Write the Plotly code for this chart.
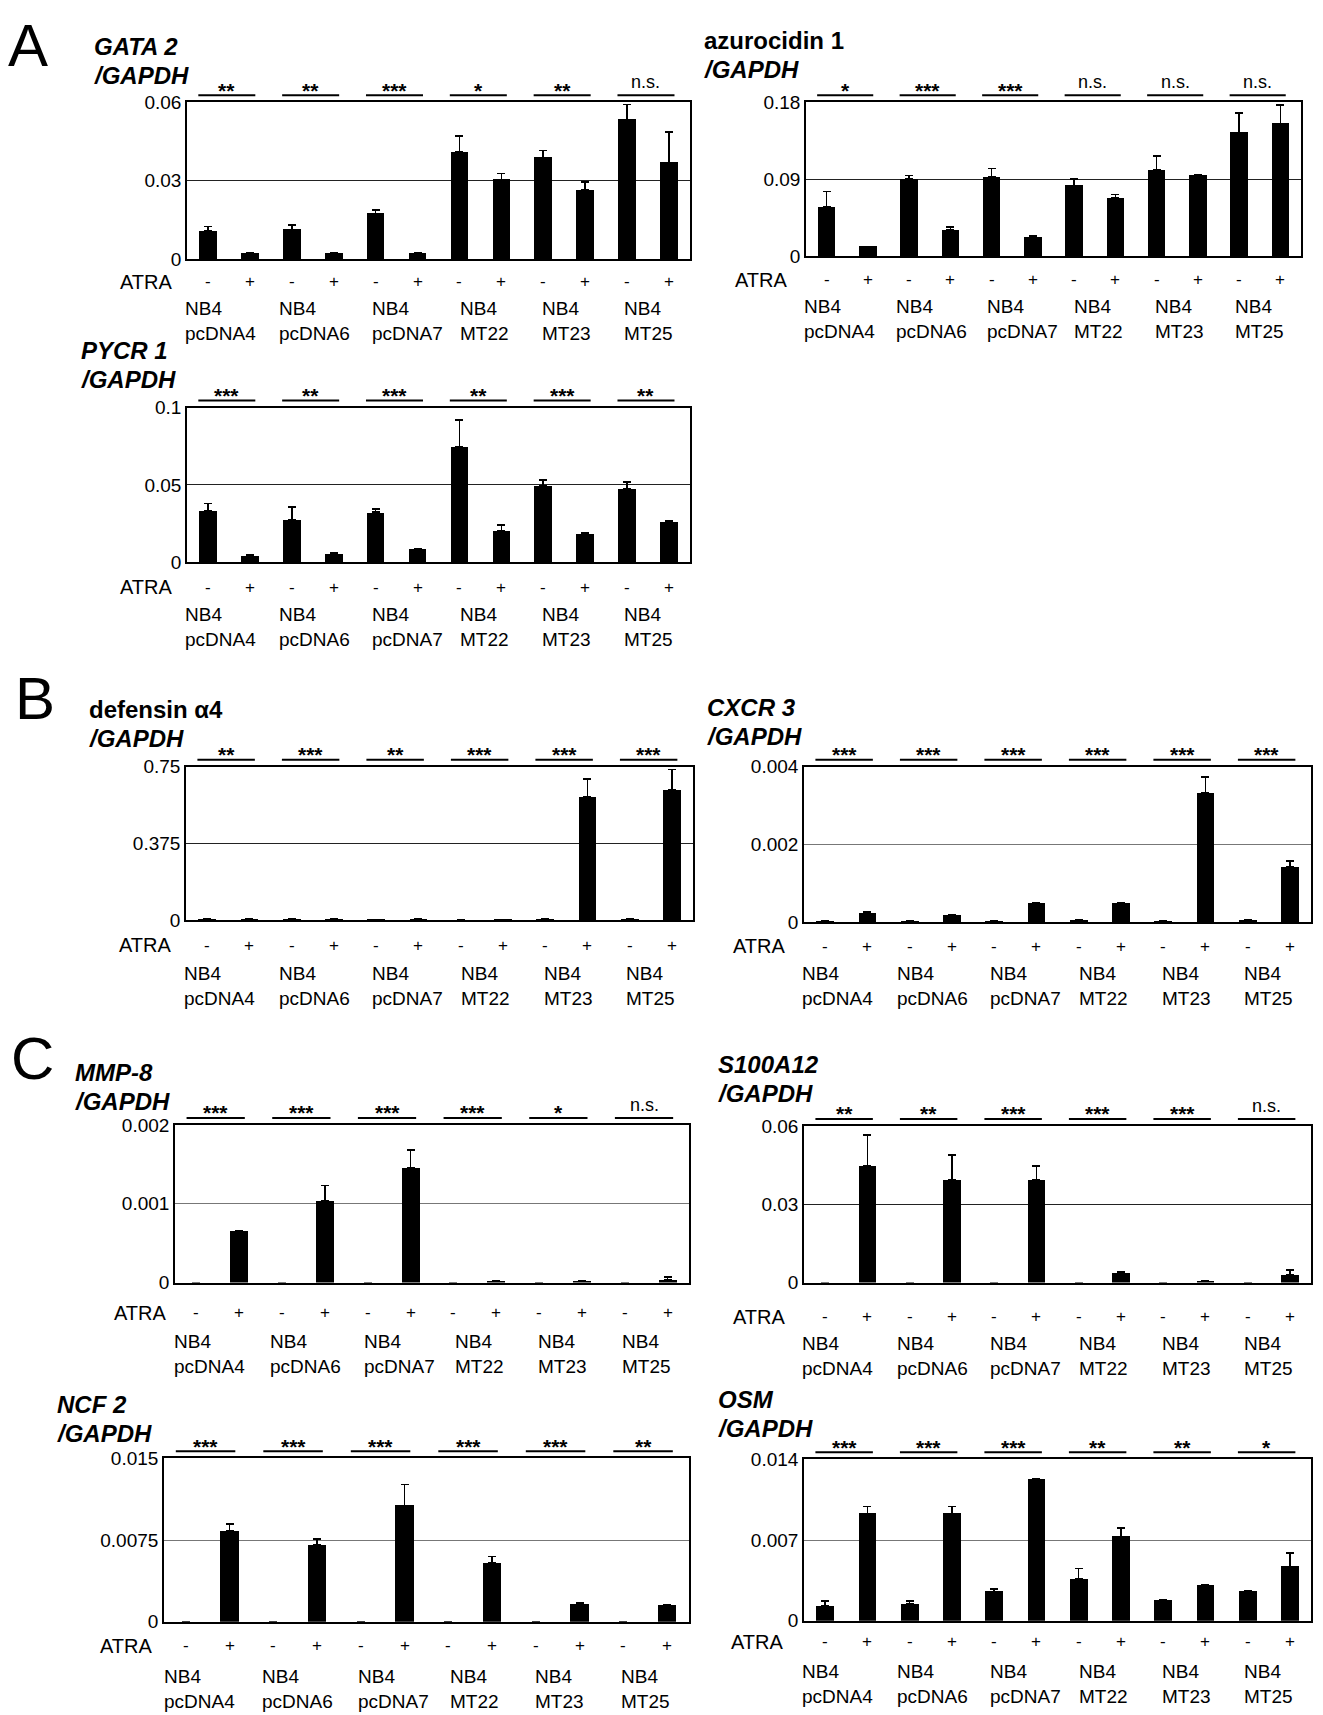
import plotly.graph_objects as go

W, H = 1323, 1715
FONT = "Liberation Sans, Arial, sans-serif"
OFFY = 9.5   # observed vertical offset of the capture
SY = 0.99    # observed vertical scale of the capture

groups = ["pcDNA4", "pcDNA6", "pcDNA7", "MT22", "MT23", "MT25"]
atra = ["-", "+"] * 6
cats = list(range(12))

gata2 = [0.0106, 0.0023, 0.0112, 0.0023, 0.0174, 0.0023, 0.0409, 0.0305, 0.0389, 0.0264, 0.0534, 0.0369]
gata2_err = [0.0019, 0, 0.0019, 0, 0.0013, 0, 0.0061, 0.0022, 0.0027, 0.0031, 0.0057, 0.0117]
gata2_sig = ["**", "**", "***", "*", "**", "n.s."]

azu = [0.0574, 0.0111, 0.090, 0.0306, 0.0927, 0.0222, 0.0823, 0.0678, 0.1007, 0.095, 0.1448, 0.1551]
azu_err = [0.018, 0, 0.0042, 0.0031, 0.0099, 0.0012, 0.0077, 0.0042, 0.0165, 0, 0.0229, 0.0218]
azu_sig = ["*", "***", "***", "n.s.", "n.s.", "n.s."]

pycr1 = [0.0335, 0.0041, 0.0276, 0.0054, 0.0324, 0.0086, 0.0745, 0.0205, 0.0497, 0.0186, 0.0475, 0.0266]
pycr1_err = [0.0045, 0.0007, 0.008, 0.0006, 0.0019, 0, 0.0173, 0.0035, 0.0036, 0.0006, 0.0045, 0.0004]
pycr1_sig = ["***", "**", "***", "**", "***", "**"]

defa4 = [0.008, 0.008, 0.008, 0.008, 0.004, 0.008, 0.001, 0.005, 0.008, 0.604, 0.008, 0.640]
defa4_err = [0, 0, 0, 0, 0, 0, 0, 0, 0, 0.086, 0, 0.097]
defa4_sig = ["**", "***", "**", "***", "***", "***"]

cxcr3 = [0.00004, 0.00025, 0.00003, 0.00019, 0.00003, 0.0005, 0.00007, 0.0005, 0.00003, 0.00332, 0.00007, 0.00143]
cxcr3_err = [0, 0.00002, 0, 0.00001, 0, 0.00001, 0, 0.00001, 0, 0.00041, 0, 0.00015]
cxcr3_sig = ["***"] * 6

mmp8 = [0, 0.00065, 0, 0.00104, 0, 0.00146, 0, 0.00002, 0, 0.00002, 0, 0.00003]
mmp8_err = [0, 0.00001, 0, 0.00019, 0, 0.00022, 0, 0, 0, 0, 0, 0.00004]
mmp8_sig = ["***", "***", "***", "***", "*", "n.s."]

s100a12 = [0, 0.0448, 0, 0.0394, 0, 0.0394, 0, 0.0038, 0, 0.0008, 0, 0.003]
s100a12_err = [0, 0.0117, 0, 0.0095, 0, 0.0053, 0, 0.0002, 0, 0, 0, 0.0019]
s100a12_sig = ["**", "**", "***", "***", "***", "n.s."]

ncf2 = [0, 0.00835, 0, 0.00702, 0, 0.01065, 0, 0.00538, 0, 0.0016, 0, 0.00154]
ncf2_err = [0, 0.0006, 0, 0.0006, 0, 0.00193, 0, 0.00061, 0, 0.0001, 0, 0]
ncf2_sig = ["***", "***", "***", "***", "***", "**"]

osm = [0.0013, 0.00931, 0.00144, 0.00931, 0.00254, 0.01225, 0.00364, 0.00731, 0.00181, 0.00305, 0.00257, 0.00469]
osm_err = [0.00042, 0.0006, 0.00026, 0.0006, 0.00023, 0.00005, 0.00088, 0.00073, 0.00005, 0.00005, 0.00003, 0.00118]
osm_sig = ["***", "***", "***", "**", "**", "*"]

panels = [
    dict(name="<b><i>GATA 2</i></b>", vals=gata2, err=gata2_err, sig=gata2_sig,
         ticks=[0, 0.03, 0.06], labels=["0", "0.03", "0.06"],
         box=(187, 102, 690, 259), title=(92, 46), atra=23, nb4=62, grid="#222", atrax=12),
    dict(name="<b>azurocidin 1</b>", vals=azu, err=azu_err, sig=azu_sig,
         ticks=[0, 0.09, 0.18], labels=["0", "0.09", "0.18"],
         box=(806, 102, 1301, 256), title=(702, 40), atra=24, nb4=63, grid="#222", atrax=16),
    dict(name="<b><i>PYCR 1</i></b>", vals=pycr1, err=pycr1_err, sig=pycr1_sig,
         ticks=[0, 0.05, 0.1], labels=["0", "0.05", "0.1"],
         box=(187, 408, 690, 563), title=(79, 351), atra=25, nb4=65, grid="#222", atrax=12),
    dict(name="<b>defensin α4</b>", vals=defa4, err=defa4_err, sig=defa4_sig,
         ticks=[0, 0.375, 0.75], labels=["0", "0.375", "0.75"],
         box=(186, 768, 693, 922), title=(87, 711), atra=25, nb4=66, grid="#222", atrax=12),
    dict(name="<b><i>CXCR 3</i></b>", vals=cxcr3, err=cxcr3_err, sig=cxcr3_sig,
         ticks=[0, 0.002, 0.004], labels=["0", "0.002", "0.004"],
         box=(804, 768, 1311, 924), title=(705, 709), atra=24, nb4=64, grid="#777", atrax=16),
    dict(name="<b><i>MMP-8</i></b>", vals=mmp8, err=mmp8_err, sig=mmp8_sig,
         ticks=[0, 0.001, 0.002], labels=["0", "0.001", "0.002"],
         box=(175, 1127, 689, 1285), title=(73, 1074), atra=30, nb4=72, grid="#777", atrax=6),
    dict(name="<b><i>S100A12</i></b>", vals=s100a12, err=s100a12_err, sig=s100a12_sig,
         ticks=[0, 0.03, 0.06], labels=["0", "0.03", "0.06"],
         box=(804, 1128, 1311, 1285), title=(716, 1066), atra=34, nb4=74, grid="#222", atrax=16),
    dict(name="<b><i>NCF 2</i></b>", vals=ncf2, err=ncf2_err, sig=ncf2_sig,
         ticks=[0, 0.0075, 0.015], labels=["0", "0.0075", "0.015"],
         box=(164, 1461, 689, 1625), title=(55, 1407), atra=24, nb4=67, grid="#777", atrax=9),
    dict(name="<b><i>OSM</i></b>", vals=osm, err=osm_err, sig=osm_sig,
         ticks=[0, 0.007, 0.014], labels=["0", "0.007", "0.014"],
         box=(804, 1462, 1311, 1624), title=(716, 1402), atra=21, nb4=63, grid="#777", atrax=18),
]

label_shift = [-0.2, 0.05, 0.25, 0.1, 0.05, 0.0]

def py(v):
    return 1 - ((v - OFFY) / SY) / H

def px(v):
    return v / W

fig = go.Figure()
annotations = []
shapes = []

for i, p in enumerate(panels):
    n = "" if i == 0 else str(i + 1)
    xa, ya = "x" + n, "y" + n
    x0, y0, x1, y1 = p["box"]
    top = p["ticks"][-1]
    errs = [e if e > 0 else None for e in p["err"]]
    fig.add_trace(go.Bar(
        x=cats, y=p["vals"], xaxis=xa, yaxis=ya, width=0.42,
        marker=dict(color="black", line=dict(width=0)),
        error_y=dict(type="data", symmetric=False, array=errs,
                     arrayminus=[0] * 12, color="black", thickness=1.6, width=4),
        showlegend=False, hoverinfo="skip"))
    fig.update_layout(**{
        "xaxis" + n: dict(domain=[px(x0), px(x1)], anchor=ya, range=[-0.5, 11.5],
                          showticklabels=False, ticks="", showgrid=False, zeroline=False,
                          showline=True, mirror=True, linecolor="black", linewidth=1.6),
        "yaxis" + n: dict(domain=[py(y1), py(y0)], anchor=xa, range=[0, top],
                          tickvals=p["ticks"], ticktext=p["labels"], ticks="",
                          showgrid=True, gridcolor=p["grid"], gridwidth=1.3, zeroline=False,
                          showline=True, mirror=True, linecolor="black", linewidth=1.6,
                          tickfont=dict(size=19, color="black", family=FONT)),
    })
    tx, ty = p["title"]
    annotations.append(dict(x=px(tx), y=py(ty), xref="paper", yref="paper", text=p["name"],
                            showarrow=False, xanchor="left", yanchor="middle",
                            font=dict(size=24, color="black", family=FONT)))
    annotations.append(dict(x=px(tx), y=py(ty + 29), xref="paper", yref="paper",
                            text="<b><i>/GAPDH</i></b>", showarrow=False,
                            xanchor="left", yanchor="middle",
                            font=dict(size=24, color="black", family=FONT)))
    for g, s in enumerate(p["sig"]):
        c = 2 * g + 0.45
        shapes.append(dict(type="line", xref=xa, yref="paper", x0=c - 0.68, x1=c + 0.68,
                           y0=py(y0 - 7), y1=py(y0 - 7), line=dict(color="black", width=2)))
        ns = s == "n.s."
        annotations.append(dict(x=c, y=py(y0 - (20 if ns else 12)), xref=xa, yref="paper",
                                text=s if ns else "<b>" + s + "</b>", showarrow=False,
                                xanchor="center", yanchor="middle",
                                font=dict(size=18 if ns else 21, color="black", family=FONT)))
    ay = py(y1 + p["atra"])
    annotations.append(dict(x=px(x0 - p["atrax"]), y=ay, xref="paper", yref="paper", text="ATRA",
                            showarrow=False, xanchor="right", yanchor="middle",
                            font=dict(size=20, color="black", family=FONT)))
    for k, sgn in enumerate(atra):
        annotations.append(dict(x=k, y=ay, xref=xa, yref="paper", text=sgn, showarrow=False,
                                xanchor="center", yanchor="middle",
                                font=dict(size=17, color="black", family=FONT)))
    for g, gname in enumerate(groups):
        annotations.append(dict(x=2 * g + 0.5 + label_shift[g], y=py(y1 + p["nb4"]), xref=xa,
                                yref="paper", text="NB4<br>" + gname, showarrow=False,
                                align="left", xanchor="center", yanchor="middle",
                                font=dict(size=19, color="black", family=FONT)))

# panel letters
annotations.append(dict(x=px(6), y=1, xref="paper", yref="paper", text="A",
                        showarrow=False, xanchor="left", yanchor="top",
                        font=dict(size=60, color="black", family=FONT)))
for letter, lx, ly in [("B", 13, 700), ("C", 9, 1060)]:
    annotations.append(dict(x=px(lx), y=py(ly), xref="paper", yref="paper", text=letter,
                            showarrow=False, xanchor="left", yanchor="middle",
                            font=dict(size=60, color="black", family=FONT)))

fig.update_layout(width=W, height=H, margin=dict(l=0, r=0, t=0, b=0),
                  paper_bgcolor="white", plot_bgcolor="white",
                  annotations=annotations, shapes=shapes, bargap=0)
fig.write_html("out.html", config={"displayModeBar": False},
               post_script="document.body.style.margin='0';document.body.style.overflow='hidden';")
